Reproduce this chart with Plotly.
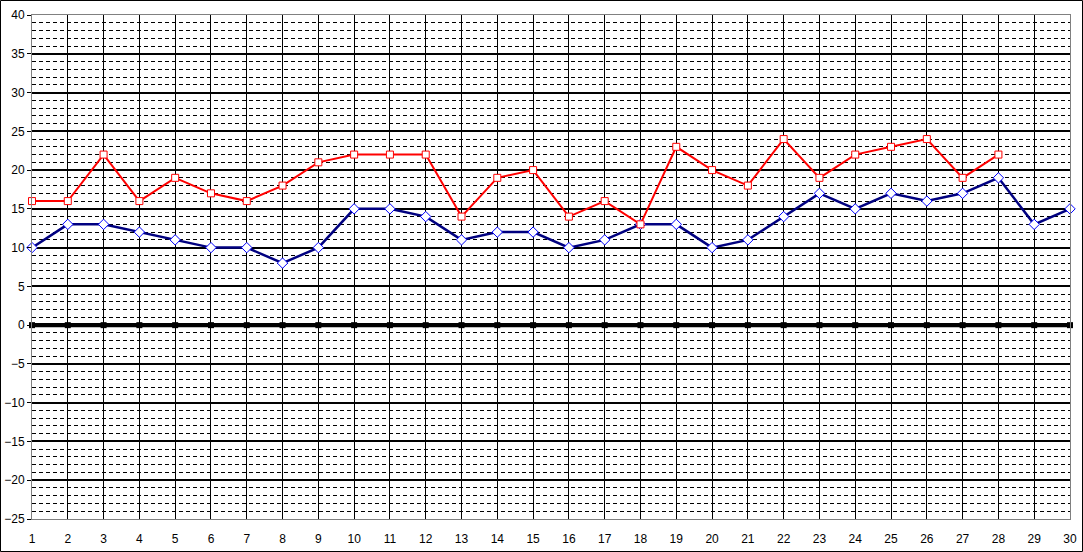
import plotly.graph_objects as go

days = list(range(1, 31))
red_values = [16, 16, 22, 16, 19, 17, 16, 18, 21, 22, 22, 22, 14, 19, 20, 14, 16, 13, 23, 20, 18, 24, 19, 22, 23, 24, 19, 22]
blue_values = [10, 13, 13, 12, 11, 10, 10, 8, 10, 15, 15, 14, 11, 12, 12, 10, 11, 13, 13, 10, 11, 14, 17, 15, 17, 16, 17, 19, 13, 15]
zero_values = [0] * 30
y_ticks = list(range(-25, 41, 5))

W, H = 1083, 552
L, R, T, B = 32, 13, 15, 33
pw, ph = W - L - R, H - T - B

fig = go.Figure()
fig.add_trace(go.Scatter(
    x=days, y=zero_values, mode="lines+markers",
    line=dict(color="black", width=4),
    marker=dict(symbol="square", size=6, color="black"),
    showlegend=False, hoverinfo="skip", cliponaxis=False))
fig.add_trace(go.Scatter(
    x=days[:len(blue_values)], y=blue_values, mode="lines+markers",
    line=dict(color="#000080", width=2.5),
    marker=dict(symbol="diamond", size=8, color="white", line=dict(color="#0000FF", width=1)),
    showlegend=False, cliponaxis=False))
fig.add_trace(go.Scatter(
    x=days[:len(red_values)], y=red_values, mode="lines+markers",
    line=dict(color="#FF0000", width=2),
    marker=dict(symbol="square", size=7, color="white", line=dict(color="#FF0000", width=1)),
    showlegend=False, cliponaxis=False))

fig.update_layout(
    width=W, height=H,
    margin=dict(l=L, r=R, t=T, b=B, pad=0, autoexpand=False),
    paper_bgcolor="white", plot_bgcolor="white",
    font=dict(family="Liberation Sans, Arial", size=12, color="black"),
    xaxis=dict(
        range=[1, 30], tickmode="array", tickvals=days, ticktext=[str(d) for d in days],
        showgrid=True, gridcolor="black", gridwidth=1,
        showline=True, linecolor="#808080", linewidth=1, mirror=True,
        zeroline=False, ticks="outside", ticklen=9, tickcolor="rgba(0,0,0,0)",
        fixedrange=True, automargin=False,
        tickfont=dict(size=12, color="black"),
    ),
    yaxis=dict(
        range=[-25, 40], tickmode="array", tickvals=y_ticks,
        showgrid=True, gridcolor="black", gridwidth=2,
        zeroline=True, zerolinecolor="black", zerolinewidth=4,
        showline=True, linecolor="#808080", linewidth=1, mirror=True,
        ticks="outside", ticklen=4, tickcolor="black", automargin=False,
        minor=dict(dtick=1, tick0=0, showgrid=True, gridcolor="black", gridwidth=1, griddash="4px,3px", ticks=""),
        tickfont=dict(size=12, color="black"),
    ),
    shapes=[dict(
        type="rect", xref="paper", yref="paper",
        x0=(0.5 - L) / pw, x1=(W - 0.5 - L) / pw,
        y0=(H - B - (H - 0.5)) / ph, y1=(H - B - 0.5) / ph,
        line=dict(color="black", width=1), fillcolor="rgba(0,0,0,0)", layer="above")],
)

fig.write_html("out.html", config={"displayModeBar": False},
               post_script="document.body.style.margin='0';document.body.style.overflow='hidden';")
